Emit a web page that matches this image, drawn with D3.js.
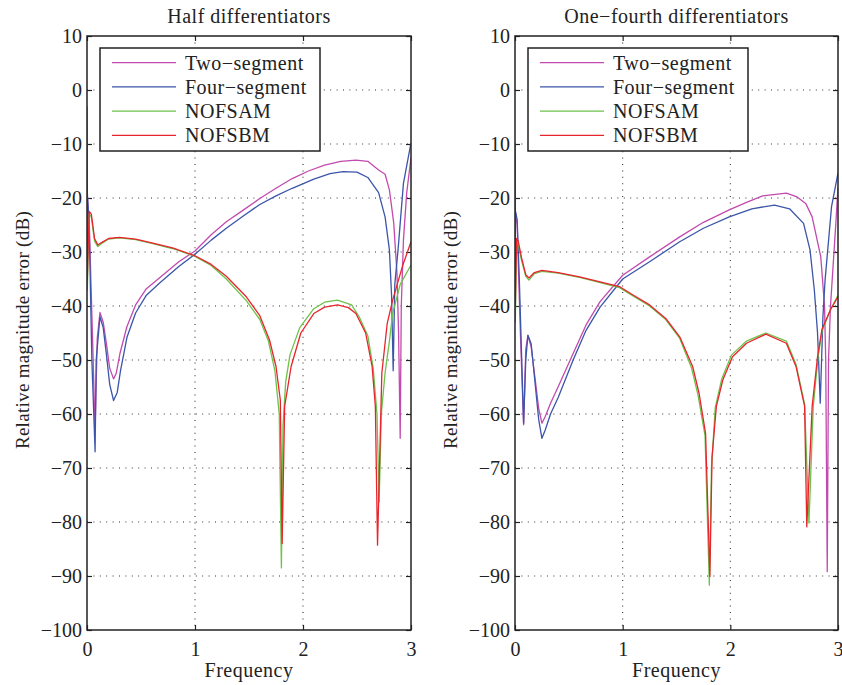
<!DOCTYPE html>
<html><head><meta charset="utf-8">
<script src="https://cdn.jsdelivr.net/npm/d3@7"></script>
<style>
body{margin:0;background:#fff;}
text{font-family:"Liberation Serif","DejaVu Serif",serif;fill:#222;}
</style></head>
<body><svg id="chart" width="842" height="685"></svg>
<script>
// ---- Data ----
const xTicks = [0, 1, 2, 3];
const yTicks = [10, 0, -10, -20, -30, -40, -50, -60, -70, -80, -90, -100];
const seriesNames = ["Two\u2212segment", "Four\u2212segment", "NOFSAM", "NOFSBM"];
const seriesColors = ["#c24aae", "#3b55a9", "#6cc24a", "#e8242c"];
const panelTitles = ["Half differentiators", "One\u2212fourth differentiators"];

// Half differentiators: [frequency, dB]
const halfTwo = [[0,-19],[0.02,-24],[0.05,-45],[0.075,-63],[0.095,-46],[0.12,-41.2],[0.15,-43],[0.18,-47],[0.21,-51.5],[0.246,-53.5],[0.27,-52.5],[0.305,-48.8],[0.37,-43.8],[0.45,-39.8],[0.55,-36.8],[0.67,-34.8],[0.85,-31.8],[1.0,-29.8],[1.15,-26.8],[1.29,-24.4],[1.45,-22.2],[1.6,-20.1],[1.75,-18.2],[1.9,-16.4],[2.05,-15],[2.2,-13.9],[2.35,-13.2],[2.49,-13],[2.6,-13.2],[2.7,-14.8],[2.76,-15.6],[2.8,-18.5],[2.84,-24.6],[2.87,-33.9],[2.885,-45],[2.9,-64.5],[2.91,-40],[2.93,-27.8],[2.96,-19.1],[3.0,-12.5]];
const halfFour = [[0,-18],[0.02,-25],[0.045,-50],[0.075,-67],[0.085,-50],[0.12,-42],[0.15,-44],[0.18,-49],[0.21,-54.5],[0.246,-57.5],[0.28,-56],[0.31,-52],[0.37,-45.8],[0.45,-41.3],[0.55,-38],[0.67,-35.8],[0.85,-32.7],[1.0,-30.4],[1.15,-27.8],[1.29,-25.6],[1.45,-23.3],[1.6,-21.2],[1.75,-19.6],[1.9,-18.2],[2.1,-16.5],[2.25,-15.5],[2.37,-15.1],[2.5,-15.2],[2.6,-16.2],[2.7,-19],[2.76,-23.5],[2.8,-29.6],[2.82,-38],[2.835,-52],[2.85,-36],[2.88,-29.6],[2.93,-17.3],[2.97,-13],[3.0,-9.8]];
const halfSAM = [[0,-10],[0.003,-37],[0.02,-23],[0.04,-23.5],[0.07,-28],[0.1,-29],[0.13,-28.5],[0.2,-27.6],[0.3,-27.4],[0.45,-27.7],[0.6,-28.4],[0.8,-29.4],[1.0,-30.8],[1.15,-32.5],[1.29,-35],[1.475,-39],[1.6,-42.5],[1.68,-46.5],[1.74,-52],[1.78,-60],[1.80,-88.5],[1.815,-62],[1.84,-54],[1.88,-49],[1.97,-44],[2.1,-40.5],[2.2,-39.3],[2.32,-38.9],[2.45,-39.8],[2.52,-42],[2.6,-45.5],[2.65,-51.5],[2.685,-60],[2.705,-76.3],[2.725,-60],[2.76,-52.4],[2.8,-46.5],[2.83,-41.4],[2.9,-36],[3.0,-32.4]];
const halfSBM = [[0,-3],[0.003,-35],[0.02,-22.5],[0.04,-23],[0.07,-27.5],[0.1,-28.7],[0.13,-28.3],[0.2,-27.5],[0.3,-27.3],[0.45,-27.6],[0.6,-28.3],[0.8,-29.3],[1.0,-30.7],[1.15,-32.3],[1.29,-34.5],[1.475,-38.3],[1.6,-41.8],[1.69,-46.3],[1.75,-51.2],[1.79,-57.4],[1.807,-84],[1.83,-58.6],[1.89,-51.2],[1.98,-45],[2.1,-41.4],[2.2,-40.2],[2.32,-39.8],[2.42,-40.3],[2.49,-41.4],[2.58,-45],[2.64,-51.2],[2.67,-58.6],[2.69,-84.3],[2.73,-52.4],[2.78,-43.2],[2.83,-38.9],[2.92,-32.7],[3.0,-28.1]];

// One-fourth differentiators: [frequency, dB]
const quarterTwo = [[0,-22],[0.02,-25],[0.05,-45],[0.08,-62],[0.1,-48],[0.12,-45.5],[0.15,-47.5],[0.19,-54],[0.22,-59],[0.25,-61.7],[0.28,-60.5],[0.33,-58],[0.4,-55],[0.54,-48.8],[0.66,-43.5],[0.79,-39.2],[1.0,-34.3],[1.25,-30.9],[1.53,-27.2],[1.75,-24.5],[1.99,-22.2],[2.15,-20.8],[2.3,-19.6],[2.52,-19.1],[2.62,-19.8],[2.7,-21],[2.76,-23.5],[2.84,-30.9],[2.875,-40],[2.886,-50],[2.9,-89.2],[2.912,-50],[2.93,-40.1],[2.98,-24.7],[3.0,-18]];
const quarterFour = [[0,-22],[0.02,-24],[0.04,-35],[0.08,-61.7],[0.1,-50],[0.12,-45.4],[0.15,-47],[0.19,-55],[0.22,-61],[0.25,-64.5],[0.28,-63],[0.33,-60],[0.4,-57],[0.54,-50],[0.66,-44.5],[0.79,-40.2],[1.0,-35],[1.25,-31.8],[1.53,-28.1],[1.75,-25.6],[1.99,-23.5],[2.2,-22],[2.41,-21.3],[2.55,-22],[2.68,-24.7],[2.74,-29.6],[2.78,-37],[2.81,-45],[2.835,-58],[2.86,-42],[2.88,-35.2],[2.94,-21.6],[3.0,-15.4]];
const quarterSAM = [[0,-12],[0.003,-43],[0.015,-28],[0.03,-28.5],[0.06,-31.5],[0.1,-34.5],[0.13,-35.2],[0.18,-34],[0.25,-33.6],[0.4,-33.9],[0.6,-34.7],[0.8,-35.7],[0.97,-36.6],[1.1,-38.2],[1.25,-40],[1.4,-42.5],[1.53,-46],[1.64,-51.5],[1.7,-56.5],[1.765,-64],[1.805,-91.7],[1.825,-70],[1.86,-58.8],[1.92,-53.5],[2.01,-49.1],[2.15,-46.5],[2.33,-45],[2.52,-46.5],[2.61,-50.8],[2.69,-58.2],[2.73,-80.2],[2.77,-58.6],[2.815,-49.4],[2.855,-44.4],[2.93,-40.7],[3.0,-38]];
const quarterSBM = [[0,-10],[0.003,-40],[0.015,-27.5],[0.03,-28],[0.06,-31],[0.1,-34.2],[0.13,-34.8],[0.18,-33.8],[0.25,-33.4],[0.4,-33.8],[0.6,-34.6],[0.8,-35.6],[0.97,-36.4],[1.1,-38],[1.25,-39.8],[1.4,-42.3],[1.53,-45.7],[1.65,-51.2],[1.71,-56.2],[1.77,-63.6],[1.81,-90.1],[1.83,-68],[1.87,-58.6],[1.93,-53.7],[2.02,-49.4],[2.15,-46.9],[2.33,-45.2],[2.52,-46.9],[2.61,-51.2],[2.69,-58.6],[2.71,-80.9],[2.76,-58.6],[2.81,-49.4],[2.85,-44.4],[2.93,-40.7],[3.0,-38.3]];

const panels = [
  {title: panelTitles[0], left: 87, width: 324, series: [halfTwo, halfFour, halfSAM, halfSBM]},
  {title: panelTitles[1], left: 515, width: 323, series: [quarterTwo, quarterFour, quarterSAM, quarterSBM]}
];

// ---- Drawing ----
const svg = d3.select("#chart");
const plotTop = 36, H = 594;

panels.forEach((p, pi) => {
  const W = p.width;
  const g = svg.append("g").attr("transform", `translate(${p.left},${plotTop})`);
  const x = d3.scaleLinear().domain([0, 3]).range([0, W]);
  const y = d3.scaleLinear().domain([-100, 10]).range([H, 0]);

  // grid (dotted)
  const grid = g.append("g").attr("stroke", "#333").attr("stroke-width", 1.1)
    .attr("stroke-dasharray", "1,5.4");
  grid.selectAll(".gx").data(xTicks.slice(1, -1)).join("line")
    .attr("x1", d => x(d)).attr("x2", d => x(d)).attr("y1", 0).attr("y2", H);
  grid.selectAll(".gy").data(yTicks.slice(1, -1)).join("line")
    .attr("x1", 0).attr("x2", W).attr("y1", d => y(d)).attr("y2", d => y(d));

  // axes
  const fmt = d => String(d).replace("-", "\u2212");
  const ax = g.append("g").attr("transform", `translate(0,${H})`)
    .call(d3.axisBottom(x).tickValues(xTicks).tickSize(-5).tickPadding(12).tickFormat(fmt));
  const ay = g.append("g")
    .call(d3.axisLeft(y).tickValues(yTicks).tickSize(-5).tickPadding(5).tickFormat(fmt));
  const axT = g.append("g").call(d3.axisTop(x).tickValues(xTicks).tickSize(-5).tickFormat(""));
  const ayR = g.append("g").attr("transform", `translate(${W},0)`)
    .call(d3.axisRight(y).tickValues(yTicks).tickSize(-5).tickFormat(""));
  [ax, ay, axT, ayR].forEach(a => {
    a.select(".domain").remove();
    a.selectAll("line").attr("stroke", "#222").attr("stroke-width", 1.2);
    a.selectAll("text").style("font-family", "'Liberation Serif',serif").style("font-size", "20px").attr("fill", "#222");
  });

  // clip
  const cid = "clip" + pi;
  g.append("clipPath").attr("id", cid).append("rect").attr("width", W).attr("height", H);

  const line = d3.line().x(d => x(d[0])).y(d => y(d[1]));
  const lg = g.append("g").attr("clip-path", `url(#${cid})`);
  p.series.forEach((s, i) => {
    lg.append("path").datum(s).attr("d", line).attr("fill", "none")
      .attr("stroke", seriesColors[i]).attr("stroke-width", 1.3).attr("stroke-linejoin", "round");
  });

  // frame
  g.append("rect").attr("width", W).attr("height", H).attr("fill", "none")
    .attr("stroke", "#222").attr("stroke-width", 1.5);

  // title
  g.append("text").attr("x", W / 2).attr("y", -13).attr("text-anchor", "middle")
    .style("font-size", "20px").style("letter-spacing", "0.5px").text(p.title);
  // x label
  g.append("text").attr("x", W / 2).attr("y", H + 47).attr("text-anchor", "middle")
    .style("font-size", "20px").style("letter-spacing", "0.5px").text("Frequency");
  // y label
  g.append("text").attr("transform", `translate(-58,${H / 2 - 3}) rotate(-90)`)
    .attr("text-anchor", "middle").style("font-size", "19px").style("letter-spacing", "0.3px")
    .text("Relative magnitude error (dB)");

  // legend
  const leg = g.append("g").attr("transform", "translate(13,12)");
  leg.append("rect").attr("width", 220).attr("height", 103).attr("fill", "#fff")
    .attr("stroke", "#222").attr("stroke-width", 1.5);
  seriesNames.forEach((n, i) => {
    const yy = 14.7 + i * 24.2;
    leg.append("line").attr("x1", 12).attr("x2", 76).attr("y1", yy).attr("y2", yy)
      .attr("stroke", seriesColors[i]).attr("stroke-width", 1.3);
    leg.append("text").attr("x", 85).attr("y", yy + 7).style("font-size", "20px")
      .style("letter-spacing", "0.5px").text(n);
  });
});
</script></body></html>
